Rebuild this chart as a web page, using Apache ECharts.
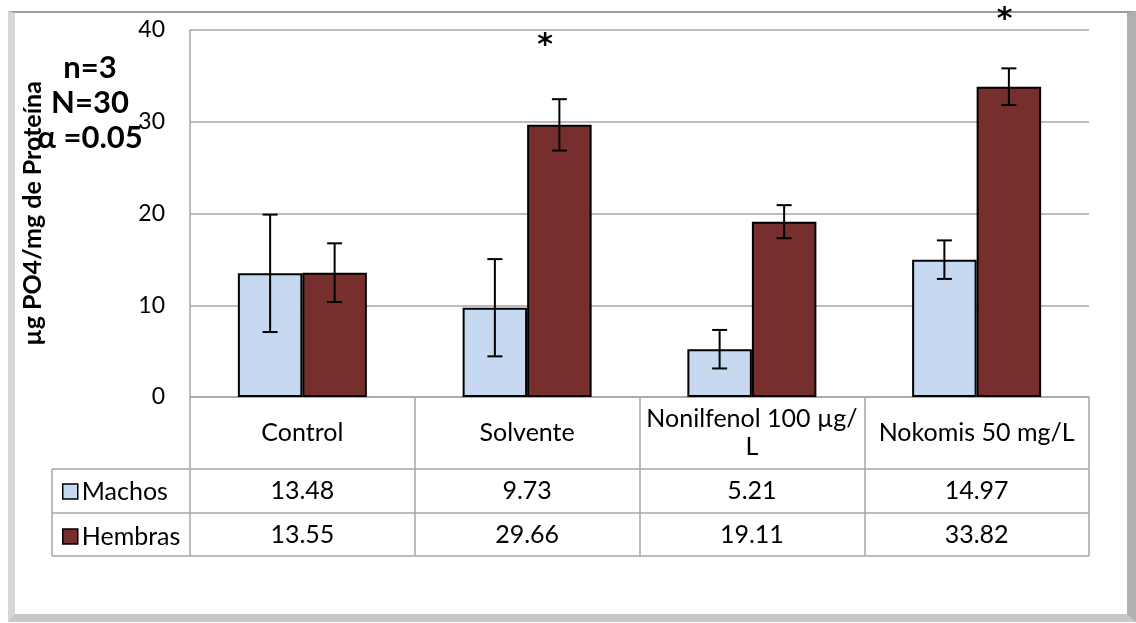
<!DOCTYPE html>
<html><head><meta charset="utf-8">
<script src="https://cdn.jsdelivr.net/npm/echarts@6/dist/echarts.min.js"></script>
<style>
html,body{margin:0;padding:0;background:#fff;}
#frame{position:absolute;left:8px;top:11px;width:1128px;height:611px;box-sizing:border-box;
 border-top:2px solid #9c9c9c;border-left:7px solid #d6d6d6;border-right:9px solid #b0b0b0;border-bottom:8px solid #c8c8c8;}
#chart{position:absolute;left:0;top:0;width:1136px;height:623px;}
</style></head><body>
<div id="frame"></div>
<div id="chart"></div>
<script>
const categories = ['Control', 'Solvente', 'Nonilfenol 100 µg/L', 'Nokomis 50 mg/L'];
const seriesNames = ['Machos', 'Hembras'];
const machos = [13.48, 9.73, 5.21, 14.97];
const hembras = [13.55, 29.66, 19.11, 33.82];
const machosErr = [6.4, 5.3, 2.1, 2.1];
const hembrasErr = [3.2, 2.8, 1.8, 2.0];
const yTicks = [0, 10, 20, 30, 40];
const notes = ['n=3', 'N=30', 'α =0.05'];
const yTitle = 'µg PO4/mg de Proteína';
const stars = [{cat: 1, value: 38.2, dx: 18}, {cat: 3, value: 41.1, dx: 28}];

const FONT = 'Lato, "DejaVu Sans", sans-serif';
const LABEL_FONT = '25px ' + FONT;
const COLORS = ['#C6D9F0', '#772F2E'];
const GRID = {left: 190, top: 30, width: 899, height: 367};
const BAR_FRAC = 0.287;
const ROW_Y = [469, 513, 556];
const TABLE_LEFT = 52;

function wrapLabel(text, maxW, font) {
  const ctx = document.createElement('canvas').getContext('2d');
  ctx.font = font;
  const tokens = text.match(/[^ \/]+[ \/]?|[ \/]/g) || [text];
  const lines = [];
  let cur = '';
  tokens.forEach(t => {
    if (cur && ctx.measureText((cur + t).trimEnd()).width > maxW) { lines.push(cur.trimEnd()); cur = t; }
    else cur += t;
  });
  lines.push(cur.trimEnd());
  return lines.join('\n');
}

const chart = echarts.init(document.getElementById('chart'), null, {renderer: 'canvas'});

function errSeries(name, vals, errs, sign) {
  return {
    type: 'custom', name: name + ' error', silent: true, z: 10,
    data: vals.map((v, i) => [i, v, errs[i]]),
    encode: {x: 0, y: 1},
    renderItem(params, api) {
      const i = api.value(0), v = api.value(1), e = api.value(2);
      const band = api.size([1, 0])[0];
      const x = api.coord([i, v])[0] + sign * band * BAR_FRAC / 2;
      const yt = api.coord([i, v + e])[1], yb = api.coord([i, v - e])[1];
      const hw = 7.5, style = {stroke: '#000', lineWidth: 2};
      return {type: 'group', children: [
        {type: 'line', shape: {x1: x, y1: yt, x2: x, y2: yb}, style},
        {type: 'line', shape: {x1: x - hw, y1: yt, x2: x + hw, y2: yt}, style},
        {type: 'line', shape: {x1: x - hw, y1: yb, x2: x + hw, y2: yb}, style}
      ]};
    }
  };
}

const option = {
  backgroundColor: 'transparent',
  animation: false,
  grid: GRID,
  legend: {
    data: seriesNames, orient: 'vertical', left: 62, top: 479, padding: 0,
    itemWidth: 15, itemHeight: 15, itemGap: 20, icon: 'rect', selectedMode: false,
    itemStyle: {borderColor: '#000', borderWidth: 1.5},
    textStyle: {fontFamily: FONT, fontSize: 25, lineHeight: 24, color: '#000', padding: [0, 0, 0, -1]}
  },
  xAxis: {
    type: 'category', data: categories,
    axisLine: {lineStyle: {color: '#a6a6a6', width: 1.5}},
    axisTick: {show: true, length: ROW_Y[2] - (GRID.top + GRID.height), lineStyle: {color: '#a6a6a6', width: 1.5}},
    axisLabel: {interval: 0, margin: 36, verticalAlign: 'middle', fontFamily: FONT, fontSize: 25, lineHeight: 28,
      color: '#000', formatter: v => wrapLabel(v, 212, LABEL_FONT)}
  },
  yAxis: {
    type: 'value', min: yTicks[0], max: yTicks[yTicks.length - 1], interval: yTicks[1] - yTicks[0],
    axisLine: {show: true, lineStyle: {color: '#a6a6a6', width: 1.5}},
    axisTick: {show: false},
    splitLine: {lineStyle: {color: '#a6a6a6', width: 1.5}},
    axisLabel: {margin: 25, fontFamily: FONT, fontSize: 23, color: '#000'}
  },
  series: [
    {type: 'bar', name: seriesNames[0], data: machos, barWidth: (BAR_FRAC * 100) + '%', barGap: '0%',
     itemStyle: {color: COLORS[0], borderColor: '#000', borderWidth: 2}},
    {type: 'bar', name: seriesNames[1], data: hembras, barWidth: (BAR_FRAC * 100) + '%', barGap: '0%',
     itemStyle: {color: COLORS[1], borderColor: '#000', borderWidth: 2}},
    errSeries(seriesNames[0], machos, machosErr, -1),
    errSeries(seriesNames[1], hembras, hembrasErr, 1)
  ]
};
chart.setOption(option);

// Data table, annotations, axis title
const gx1 = GRID.left + GRID.width;
const lineStyle = {stroke: '#a6a6a6', lineWidth: 1.5};
const graphics = [];
ROW_Y.forEach(y => graphics.push({type: 'line', shape: {x1: TABLE_LEFT, y1: y, x2: gx1, y2: y}, style: lineStyle}));
graphics.push({type: 'line', shape: {x1: TABLE_LEFT, y1: ROW_Y[0], x2: TABLE_LEFT, y2: ROW_Y[2]}, style: lineStyle});
[machos, hembras].forEach((vals, r) => {
  const yc = (ROW_Y[r] + ROW_Y[r + 1]) / 2;
  vals.forEach((v, i) => {
    const x = chart.convertToPixel({xAxisIndex: 0}, i);
    graphics.push({type: 'text', x: x, y: yc, style: {text: v.toFixed(2), font: LABEL_FONT, fill: '#000', align: 'center', verticalAlign: 'middle'}});
  });
});
const noteX = 90, noteY0 = 68, noteStep = 35;
notes.forEach((t, k) => graphics.push({type: 'text', x: noteX, y: noteY0 + k * noteStep,
  style: {text: t, font: 'bold 31px ' + FONT, fill: '#000', align: 'center', verticalAlign: 'middle'}}));
graphics.push({type: 'text', x: 33, y: GRID.top + GRID.height / 2, rotation: Math.PI / 2,
  style: {text: yTitle, font: 'bold 25px ' + FONT, fill: '#000', align: 'center', verticalAlign: 'middle'}});
stars.forEach(s => {
  const p = chart.convertToPixel({xAxisIndex: 0, yAxisIndex: 0}, [s.cat, s.value]);
  graphics.push({type: 'text', x: p[0] + s.dx, y: p[1], z: 20,
    style: {text: '*', font: 'bold 30px "DejaVu Sans", sans-serif', fill: '#000', align: 'center', verticalAlign: 'middle'}});
});
chart.setOption({graphic: graphics});
</script>
</body></html>
